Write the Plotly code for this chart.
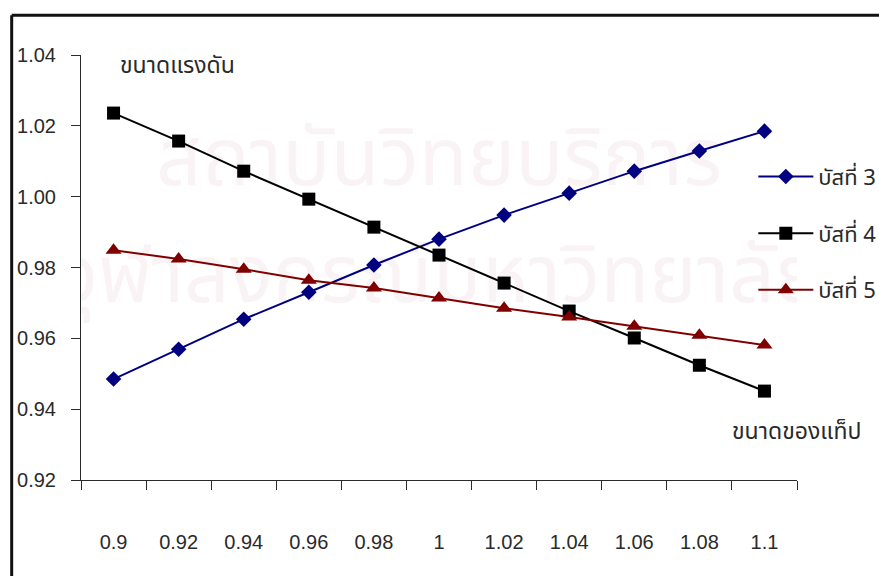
import plotly.graph_objects as go

# Tap size (per unit) on the category axis
tap_sizes = ["0.9", "0.92", "0.94", "0.96", "0.98", "1", "1.02", "1.04", "1.06", "1.08", "1.1"]

# Voltage magnitude (p.u.) at each bus
bus3 = [0.9485, 0.9569, 0.9654, 0.9730, 0.9807, 0.9880, 0.9948, 1.0010, 1.0072, 1.0129, 1.0185]
bus4 = [1.0236, 1.0157, 1.0072, 0.9993, 0.9914, 0.9835, 0.9756, 0.9677, 0.9601, 0.9524, 0.9451]
bus5 = [0.9849, 0.9824, 0.9795, 0.9764, 0.9742, 0.9714, 0.9685, 0.9660, 0.9634, 0.9609, 0.9581]

series_names = ["บัสที่ 3", "บัสที่ 4", "บัสที่ 5"]

y_ticks = [0.92, 0.94, 0.96, 0.98, 1.00, 1.02, 1.04]

THAI = "Noto Sans Thai, Loma, Garuda, Tlwg Typo, sans-serif"
NUM = "Liberation Sans, Arial, sans-serif"
INK = "#2a2a2a"

fig = go.Figure()

# Faint library watermark behind the data
fig.add_trace(go.Scatter(
    x=["1", "1"], y=[1.0090, 0.9760],
    mode="text",
    text=["สถาบันวิทยบริการ", "จุฬาลงกรณ์มหาวิทยาลัย"],
    textfont=dict(family=THAI, size=80, color="#faf3f6"),
    hoverinfo="skip", showlegend=False,
))

styles = [
    (bus3, "#000080", "diamond", 12),
    (bus4, "#000000", "square", 13),
    (bus5, "#800000", "triangle-up", 14),
]
for i, (vals, color, symbol, msize) in enumerate(styles):
    fig.add_trace(go.Scatter(
        x=tap_sizes, y=vals, name=series_names[i],
        mode="lines+markers",
        line=dict(color=color, width=2),
        marker=dict(symbol=symbol, size=msize, color=color),
        legendgroup=f"g{i}",
    ))

fig.update_layout(
    width=879, height=576,
    margin=dict(l=81, r=82, t=55, b=96, autoexpand=False),
    paper_bgcolor="white", plot_bgcolor="white",
    font=dict(family=NUM, size=20, color=INK),
    showlegend=True,
    legend=dict(
        x=0.939, y=0.763, xanchor="left", yanchor="top",
        bgcolor="rgba(0,0,0,0)",
        font=dict(family=THAI, size=22, color=INK),
        itemwidth=55, traceorder="grouped", tracegroupgap=25,
    ),
    xaxis=dict(
        type="category", categoryorder="array", categoryarray=tap_sizes,
        range=[-0.5, 10.5],
        showline=True, linecolor=INK, linewidth=1,
        ticks="outside", ticklen=9, tickcolor=INK,
        tickson="boundaries",
        ticklabelstandoff=44,
        showgrid=False, zeroline=False,
        tickfont=dict(family=NUM, size=20, color=INK),
    ),
    yaxis=dict(
        range=[0.92, 1.04],
        tickvals=y_ticks, tickformat=".2f",
        showline=True, linecolor=INK, linewidth=1,
        ticks="outside", ticklen=9, tickcolor=INK,
        ticklabelstandoff=11,
        showgrid=False, zeroline=False,
        tickfont=dict(family=NUM, size=20, color=INK),
    ),
    annotations=[
        dict(text="ขนาดแรงดัน", xref="paper", yref="paper",
             x=0.051, y=0.973, xanchor="left", yanchor="middle",
             showarrow=False, font=dict(family=THAI, size=23, color=INK)),
        dict(text="ขนาดของแท็ป", xref="paper", yref="paper",
             x=0.907, y=0.113, xanchor="left", yanchor="middle",
             showarrow=False, font=dict(family=THAI, size=23, color=INK)),
    ],
    shapes=[
        # outer chart frame (top and left edges)
        dict(type="line", xref="paper", yref="paper",
             x0=-0.0968, x1=1.12, y0=1.0936, y1=1.0936,
             line=dict(color="#111111", width=3)),
        dict(type="line", xref="paper", yref="paper",
             x0=-0.0968, x1=-0.0968, y0=1.0936, y1=-0.23,
             line=dict(color="#111111", width=3)),
    ],
)

fig.write_html("out.html")
